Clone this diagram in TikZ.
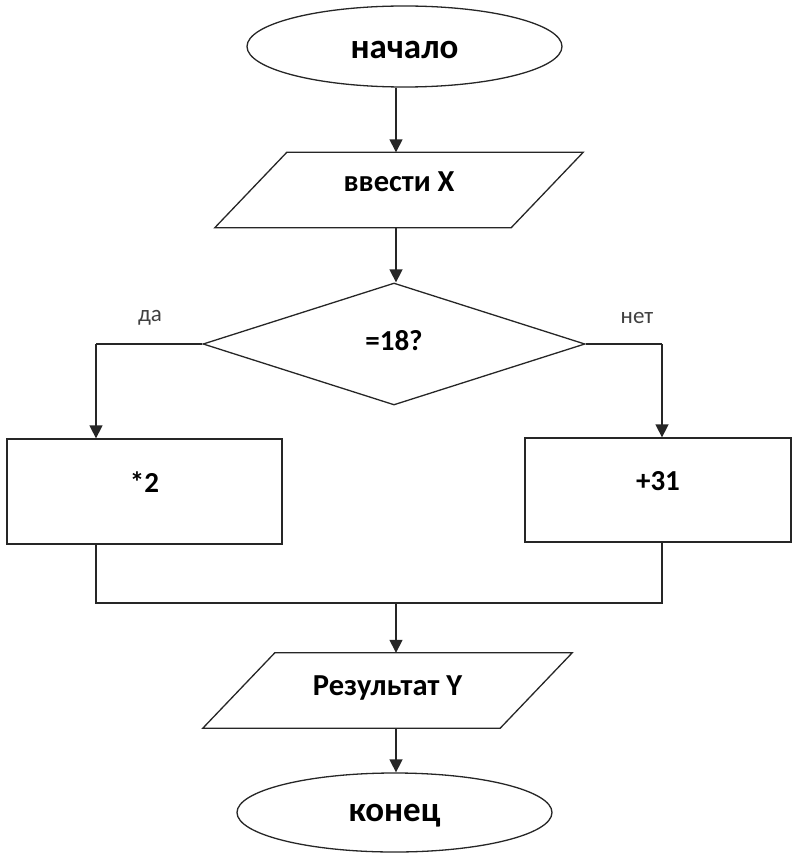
\documentclass[tikz,border=0pt]{standalone}
\usepackage{fontspec}
\setmainfont{Carlito}
\usetikzlibrary{shapes.geometric,arrows.meta}
\begin{document}
\begin{tikzpicture}[x=1pt,y=-1pt,
  shp/.style={draw=black!85, line width=1.3pt, inner sep=0pt, font=\bfseries\fontsize{29}{34}\selectfont},
  term/.style={shp, ellipse, minimum width=315, text height=24pt, font=\bfseries\fontsize{35}{40}\selectfont},
  iobox/.style={inner sep=0pt, minimum height=75, font=\bfseries\fontsize{30.5}{35}\selectfont},
  procbox/.style={shp, rectangle, text depth=19pt},
  decision/.style={shp, diamond, minimum width=382, minimum height=122, text depth=8pt},
  conn/.style={line width=1.5pt, draw=black!85},
  arr/.style={conn, -{Triangle[length=13pt,width=13pt]}},
  lbl/.style={font=\fontsize{23}{27}\selectfont, text=black!75}
]
\useasboundingbox (0,0) rectangle (792,853);
\node[term, minimum height=81] (start) at (404.5,46.5) {начало};
\node[iobox, minimum width=368, text depth=16pt] (in) at (399,190) {ввести X};
\node[decision] (dec) at (394,344) {=18?};
\node[procbox, minimum width=275, minimum height=105] (left) at (144.5,491.5) {*2};
\node[procbox, minimum width=266, minimum height=104] (right) at (658,490) {+31};
\node[iobox, minimum width=369, text depth=10pt] (out) at (387.5,690.5) {Результат Y};
\node[term, minimum height=79] (stop) at (394.5,812.5) {конец};
\foreach \n in {in,out}
  \draw[draw=black!85, line width=1.3pt] (\n.south west) -- ([xshift=72pt]\n.north west) -- (\n.north east) -- ([xshift=-72pt]\n.south east) -- cycle;
\node[lbl] (yes) at (150,318) {да};
\node[lbl] (no) at (637,318) {нет};
\coordinate (ax) at (396,0);
\coordinate (lc) at (96,344);
\coordinate (rc) at (662,344);
\coordinate (jn) at (396,603);
\draw[arr] (start.south -| ax) -- (in.north -| ax);
\draw[arr] (in.south -| ax) -- (dec.north -| ax);
\draw[conn] (dec.west) -- (lc);
\draw[arr] (lc) -- (lc |- left.north);
\draw[conn] (dec.east) -- (rc);
\draw[arr] (rc) -- (rc |- right.north);
\draw[conn] (lc |- left.south) -- (lc |- jn) -- (rc |- jn) -- (rc |- right.south);
\draw[arr] (jn) -- (out.north -| ax);
\draw[arr] (out.south -| ax) -- (stop.north -| ax);
\end{tikzpicture}
\end{document}
